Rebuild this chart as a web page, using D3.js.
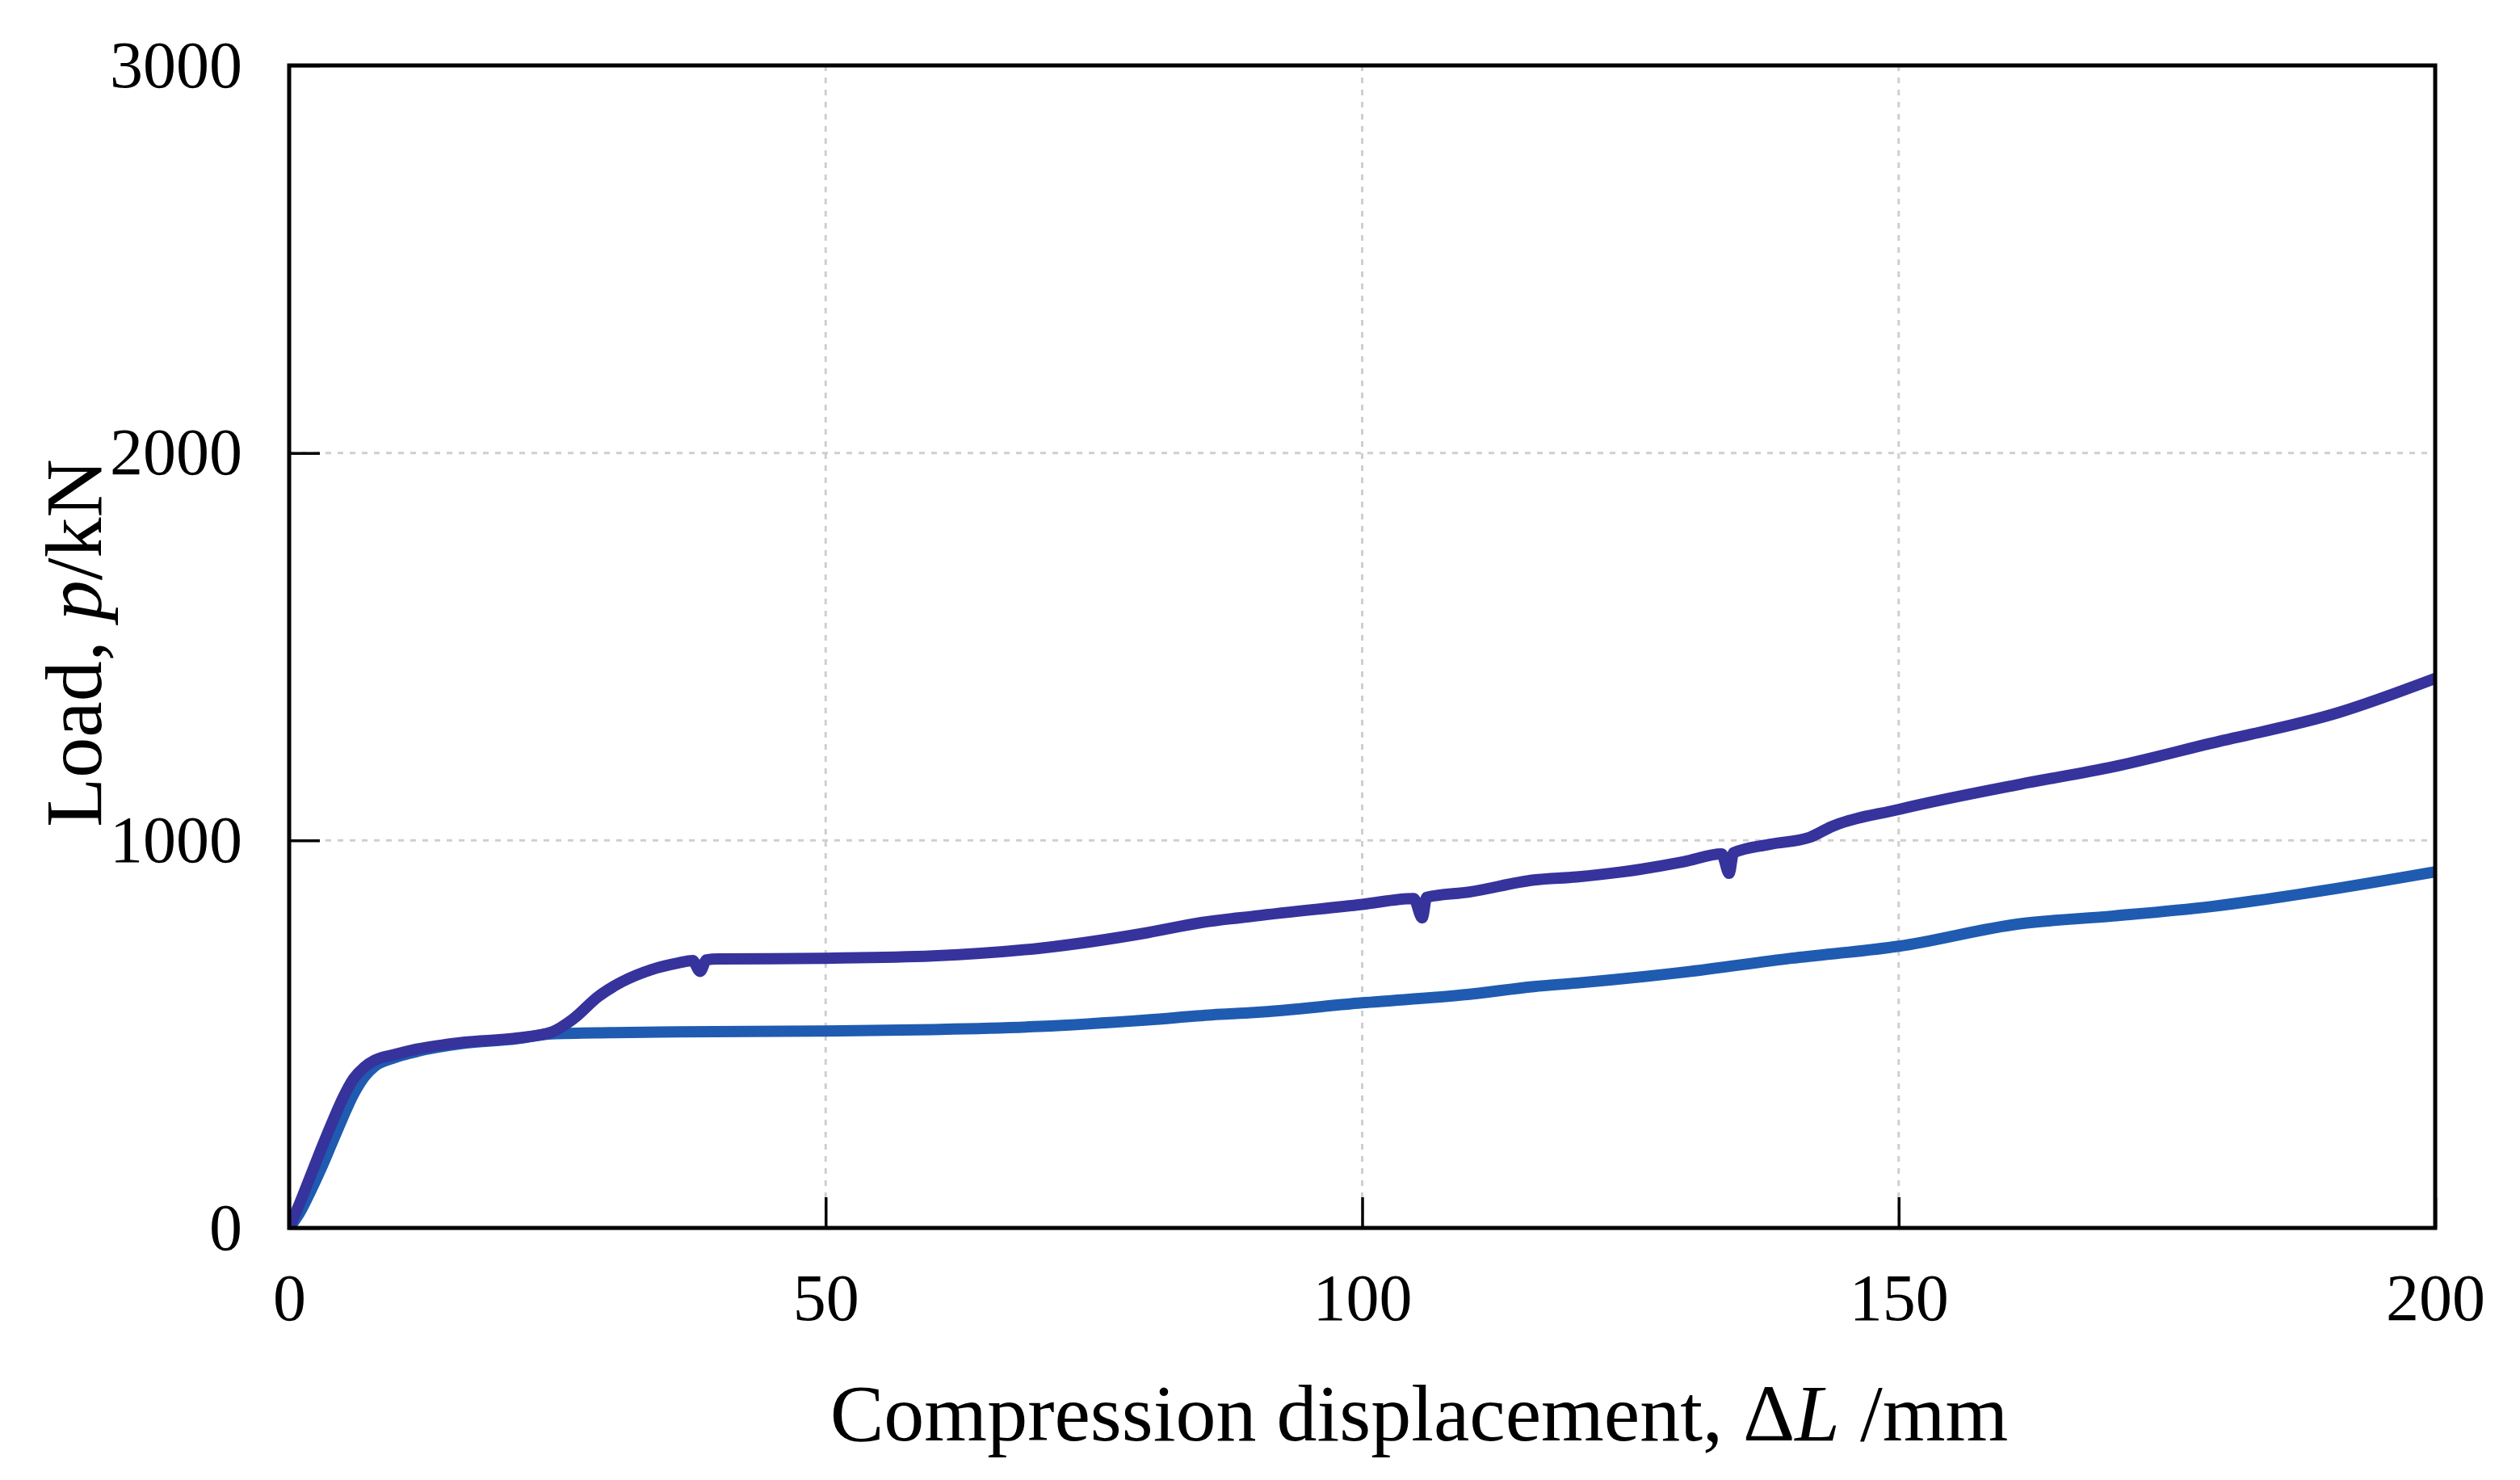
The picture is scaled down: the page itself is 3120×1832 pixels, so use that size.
<!DOCTYPE html>
<html>
<head>
<meta charset="utf-8">
<script src="https://cdn.jsdelivr.net/npm/d3@7"></script>
<style>
  html, body { margin: 0; padding: 0; background: #fff; }
  svg { display: block; }
  text { font-family: "Liberation Serif", "Times New Roman", serif; fill: #000; }
</style>
</head>
<body>
<svg id="chart" width="3120" height="1832"></svg>
<script>
// ---- data ----
const xTicks = [0, 50, 100, 150, 200];
const yTicks = [0, 1000, 2000, 3000];
const xLabel = "Compression displacement, ";
const yLabel = "Load, ";

// upper curve (purple-blue)
const upperX = [0, 1, 2, 3, 4, 5, 6, 7, 8, 9.9, 12, 16.2, 21.2, 24.5, 26.5, 28.8, 31, 33.8, 36.3, 37.6, 38.3, 38.9, 40, 50, 60, 70, 80, 85, 90, 100, 104.8, 105.6, 106.0, 110, 116, 120, 124, 130, 133.5, 134.2, 134.6, 138, 141.7, 143.7, 150, 161.3, 170, 179, 191, 200];
const upperY = [0, 65, 135, 205, 272, 335, 385, 415, 433, 448, 462, 479, 490, 506, 540, 597, 635, 667, 684, 690, 662, 692, 694, 696, 702, 722, 762, 788, 805, 835, 850, 800, 853, 867, 898, 906, 918, 945, 965, 915, 968, 990, 1008, 1035, 1080, 1145, 1190, 1250, 1330, 1418];

// lower curve (blue)
const lowerX = [0, 1, 2, 3, 4, 5, 6, 7, 8, 9.9, 12, 16.2, 21.2, 24.5, 30, 36.3, 50, 60, 70, 80, 86, 90, 100, 110, 116, 120, 130, 140, 150, 161.3, 170, 179, 191, 200];
const lowerY = [0, 40, 95, 155, 220, 285, 345, 390, 418, 440, 456, 476, 488, 501, 504, 506, 508, 512, 520, 537, 550, 556, 581, 603, 623, 632, 660, 696, 727, 785, 805, 829, 877, 919];

// ---- layout ----
const svg = d3.select("#chart");
const L = 358, R = 3015, T = 81, B = 1520;

const x = d3.scaleLinear().domain([0, 200]).range([L, R]);
const y = d3.scaleLinear().domain([0, 3000]).range([B, T]);

// grid lines (dotted, light gray)
const grid = svg.append("g");
grid.selectAll("line.gx").data(xTicks.filter(d => d > 0 && d < 200)).enter().append("line")
  .attr("x1", d => x(d)).attr("x2", d => x(d)).attr("y1", T).attr("y2", B)
  .attr("stroke", "#cfcfcf").attr("stroke-width", 3).attr("stroke-dasharray", "7,8");
grid.selectAll("line.gy").data(yTicks.filter(d => d > 0 && d < 3000)).enter().append("line")
  .attr("x1", L).attr("x2", R).attr("y1", d => y(d)).attr("y2", d => y(d))
  .attr("stroke", "#cfcfcf").attr("stroke-width", 3).attr("stroke-dasharray", "7,8");

// axes
const xAxis = d3.axisBottom(x).tickValues(xTicks).tickSizeInner(-38).tickSizeOuter(0).tickPadding(56).tickFormat(d3.format("d"));
const yAxis = d3.axisLeft(y).tickValues(yTicks).tickSizeInner(-38).tickSizeOuter(0).tickPadding(58).tickFormat(d3.format("d"));

const gx = svg.append("g").attr("transform", `translate(0,${B})`).call(xAxis);
const gy = svg.append("g").attr("transform", `translate(${L},0)`).call(yAxis);
[gx, gy].forEach(g => {
  g.select(".domain").remove();
  g.selectAll(".tick line").attr("stroke", "#000").attr("stroke-width", 3.5);
  g.selectAll(".tick text").attr("font-size", 82).attr("fill", "#000")
    .style("font-family", '"Liberation Serif", "Times New Roman", serif');
});

// curves
const line = d3.line().x(d => x(d[0])).y(d => y(d[1])).curve(d3.curveMonotoneX);
const upper = upperX.map((v, i) => [v, upperY[i]]);
const lower = lowerX.map((v, i) => [v, lowerY[i]]);

svg.append("clipPath").attr("id", "clip").append("rect")
  .attr("x", L).attr("y", T).attr("width", R - L).attr("height", B - T);

const curves = svg.append("g").attr("clip-path", "url(#clip)");
curves.append("path").datum(lower).attr("d", line)
  .attr("fill", "none").attr("stroke", "#1f5bb0").attr("stroke-width", 14)
  .attr("stroke-linejoin", "round").attr("stroke-linecap", "round");
curves.append("path").datum(upper).attr("d", line)
  .attr("fill", "none").attr("stroke", "#36339c").attr("stroke-width", 14)
  .attr("stroke-linejoin", "miter").attr("stroke-linecap", "round");

// frame
svg.append("rect").attr("x", L).attr("y", T).attr("width", R - L).attr("height", B - T)
  .attr("fill", "none").attr("stroke", "#000").attr("stroke-width", 5);

// axis titles
const xt = svg.append("text").attr("x", 1757).attr("y", 1783)
  .attr("text-anchor", "middle").attr("font-size", 100);
xt.append("tspan").text(xLabel + "\u0394");
xt.append("tspan").attr("font-style", "italic").text("L");
xt.append("tspan").text(" /mm");

const yt = svg.append("text")
  .attr("transform", `translate(125,${(568 + 1024) / 2}) rotate(-90)`)
  .attr("text-anchor", "middle").attr("font-size", 100);
yt.append("tspan").text(yLabel);
yt.append("tspan").attr("font-style", "italic").text("p");
yt.append("tspan").text("/kN");
</script>
</body>
</html>
